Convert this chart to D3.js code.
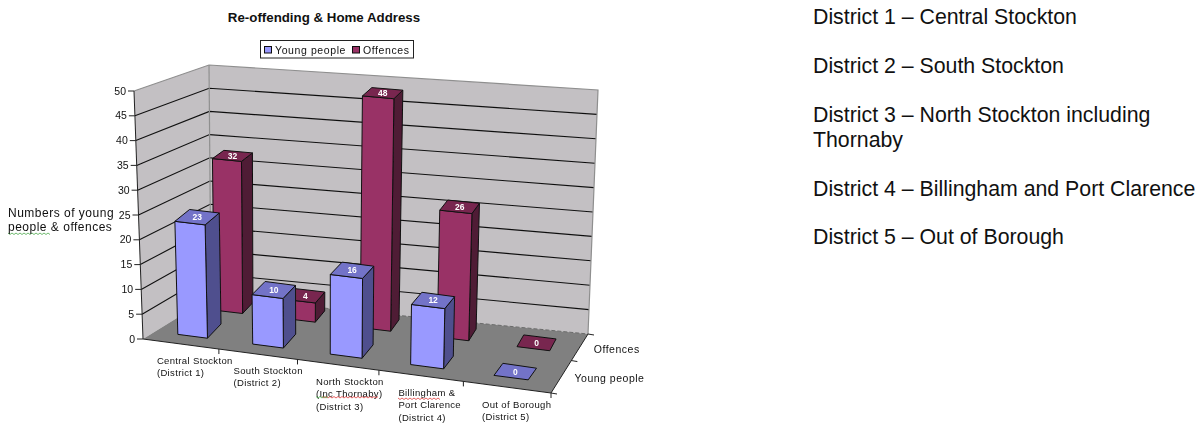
<!DOCTYPE html>
<html><head><meta charset="utf-8">
<style>html,body{margin:0;padding:0;background:#fff}svg{display:block}text{font-family:"Liberation Sans",Arial,sans-serif}</style>
<script src="https://cdnjs.cloudflare.com/ajax/libs/d3/7.8.5/d3.min.js"></script>
</head><body><svg id="c" width="1201" height="423"></svg>
<script>
const categories=["Central Stockton","South Stockton","North Stockton","Billingham","Out of Borough"];
const categoryLabels=[["Central Stockton","(District 1)"],["South Stockton","(District 2)"],["North Stockton","(Inc Thornaby)","(District 3)"],["Billingham &","Port Clarence","(District 4)"],["Out of Borough","(District 5)"]];
const seriesNames=["Young people","Offences"];
const youngPeople=[23,10,16,12,0];
const offences=[32,4,48,26,0];
const valueTicks=[0,5,10,15,20,25,30,35,40,45,50];
const districtNotes=[["District 1 – Central Stockton"],["District 2 – South Stockton"],["District 3 – North Stockton including","Thornaby"],["District 4 – Billingham and Port Clarence"],["District 5 – Out of Borough"]];
const seriesValues=[youngPeople,offences];

// Frame of the 3-D box: [front-left, front-right, back-right, back-left], page pixels
const floorQuad=[[143,339],[551,393],[588,334],[211,297]];
const topQuad=[[134,91],[561,138],[598,90],[209,65]];
const uK=1.094;
const uWarp=u=>u/(uK-(uK-1)*u);
const vDomain=[0,.15,.35,.65,.85,1];
const vxWarp=d3.scaleLinear().domain(vDomain).range([0,.275,.485,.82,.98,1]);
const vyLeft=d3.scaleLinear().domain(vDomain).range([0,.16,.5,.73,.985,1]);
const vyRight=d3.scaleLinear().domain(vDomain).range([0,.15,.34,.65,.85,1]);
function quadPoint(q,u,vx,vy){
  const [a,b,c,d]=q;
  const fx=a[0]+(b[0]-a[0])*u,bx=d[0]+(c[0]-d[0])*u,fy=a[1]+(b[1]-a[1])*u,by=d[1]+(c[1]-d[1])*u;
  return [fx+(bx-fx)*vx,fy+(by-fy)*vy];
}
const uScale=d3.scaleBand().domain(d3.range(categories.length)).range([-.016,.984]).paddingInner(0.6).paddingOuter(0.3);
const vScale=d3.scaleBand().domain(d3.range(seriesNames.length)).range([0,1]).paddingInner(0.6).paddingOuter(0.3);
const hScale=d3.scaleLinear().domain([0,50]).range([0,1]);
const P=(u,v,val)=>{
  const w=uWarp(u),vx=vxWarp(v),vy=vyLeft(v)+(vyRight(v)-vyLeft(v))*w;
  const a=quadPoint(floorQuad,w,vx,vy),b=quadPoint(topQuad,w,vx,vy),t=hScale(val);
  return [a[0]+(b[0]-a[0])*t,a[1]+(b[1]-a[1])*t];
};
const poly=pts=>pts.map(p=>p.join(",")).join(" ");
const line=d3.line();

const svg=d3.select("#c");
const defs=svg.append("defs");
defs.append("filter").attr("id","soft").attr("x","-5%").attr("y","-5%").attr("width","110%").attr("height","110%")
  .append("feGaussianBlur").attr("stdDeviation",0.4);
const chart=svg.append("g").attr("filter","url(#soft)");

// walls and floor
chart.append("polygon").attr("points",poly([P(0,0,0),P(0,1,0),P(0,1,50),P(0,0,50)])).attr("fill","#c3c0c3");
chart.append("polygon").attr("points",poly([P(0,1,0),P(1,1,0),P(1,1,50),P(0,1,50)])).attr("fill","#c3c0c3");
chart.append("polygon").attr("points",poly([P(0,0,0),P(1,0,0),P(1,1,0),P(0,1,0)])).attr("fill","#808080");
// gridlines
chart.append("g").selectAll("path").data(valueTicks.slice(1,-1)).join("path")
  .attr("d",t=>line([P(0,0,t),P(0,1,t),P(1,1,t)])).attr("fill","none").attr("stroke","#111").attr("stroke-width",1.1);
// outer edges
chart.append("path").attr("d",line([P(0,0,50),P(0,1,50),P(1,1,50),P(1,1,0)])).attr("fill","none").attr("stroke","#8f8f8f").attr("stroke-width",1.2);
chart.append("path").attr("d",line([P(0,1,0),P(0,1,50)])).attr("fill","none").attr("stroke","#8f8f8f").attr("stroke-width",1.2);
chart.append("path").attr("d",line([P(0,1,0),P(1,1,0)])).attr("fill","none").attr("stroke","#6a6a6a").attr("stroke-width",1).attr("stroke-dasharray","4 2");

// axes
const axisCol="#222";
chart.append("path").attr("d",line([P(0,0,50),P(0,0,0),P(1,0,0),P(1,1,0)])).attr("fill","none").attr("stroke",axisCol).attr("stroke-width",1);
const vt=chart.append("g").selectAll("g").data(valueTicks).join("g");
vt.append("path").attr("d",t=>{const p=P(0,0,t);return line([p,[p[0]-6,p[1]]]);}).attr("stroke",axisCol).attr("fill","none");
vt.append("text").attr("x",t=>P(0,0,t)[0]-8).attr("y",t=>P(0,0,t)[1]+3.5).attr("text-anchor","end").attr("font-size",10.5).attr("fill","#111").text(t=>t);
// category ticks + labels
const labelShift=[-62,-64,-63,-65,-69];
const catG=chart.append("g").selectAll("g").data(categoryLabels).join("g");
const catEdge=i=>P((i+1)/categories.length,0,0);
catG.append("path").attr("d",(d,i)=>{const p=catEdge(i);return line([p,[p[0],p[1]+5]]);}).attr("stroke",axisCol).attr("fill","none");
catG.selectAll("text").data((d,i)=>d.map((s,j)=>({s,j,i}))).join("text")
  .attr("x",d=>catEdge(d.i)[0]+labelShift[d.i]).attr("y",d=>catEdge(d.i)[1]+14.5+d.j*12.5)
  .attr("font-size",9.5).attr("letter-spacing",0.35).attr("fill","#111").text(d=>d.s);
// series ticks + labels
const sideEdge=d3.interpolate(P(1,0,0),P(1,1,0));
[0,.55,1].forEach(t=>{const p=sideEdge(t);chart.append("path").attr("d",line([p,[p[0]+6,p[1]+1]])).attr("stroke",axisCol).attr("fill","none");});
const serG=chart.append("g").selectAll("text").data(seriesNames).join("text")
  .attr("x",(d,i)=>P(1,(i+0.5)/2,0)[0]+9.5).attr("y",(d,i)=>P(1,(i+0.5)/2,0)[1]+3.8)
  .attr("font-size",10.5).attr("letter-spacing",0.5).attr("fill","#111").text(d=>d);

// bars: back series first, left to right
const barColors=[{front:"#9999ff",side:"#50508e",top:"#7373c8"},{front:"#993366",side:"#4f1a36",top:"#78284f"}];
const bars=[];
categories.forEach((c,i)=>seriesNames.forEach((s,k)=>bars.push({i,k,val:seriesValues[k][i]})));
bars.sort((a,b)=>(b.k-a.k)||(a.i-b.i));
const barG=chart.append("g").selectAll("g").data(bars).join("g");
barG.each(function(d){
  const g=d3.select(this),u0=uScale(d.i),u1=u0+uScale.bandwidth(),v0=vScale(d.k),v1=v0+vScale.bandwidth(),c=barColors[d.k];
  const style=s=>s.attr("stroke","#111").attr("stroke-width",1).attr("stroke-linejoin","round");
  if(d.val>0){
    style(g.append("polygon").attr("points",poly([P(u1,v0,0),P(u1,v1,0),P(u1,v1,d.val),P(u1,v0,d.val)])).attr("fill",c.side));
    style(g.append("polygon").attr("points",poly([P(u0,v0,0),P(u1,v0,0),P(u1,v0,d.val),P(u0,v0,d.val)])).attr("fill",c.front));
  }
  style(g.append("polygon").attr("points",poly([P(u0,v0,d.val),P(u1,v0,d.val),P(u1,v1,d.val),P(u0,v1,d.val)])).attr("fill",c.top));
  const m=P((u0+u1)/2,(v0+v1)/2,d.val);
  g.append("text").attr("x",m[0]).attr("y",m[1]+3).attr("text-anchor","middle").attr("font-size",8.5).attr("font-weight","bold").attr("fill","#fff").text(d.val);
});

// spell-check squiggles in the source picture
const squiggle=(x0,x1,y,col)=>chart.append("path").attr("d",line(d3.range(x0,x1+1,2).map((x,i)=>[x,y+(i%2?1:-0.5)]))).attr("fill","none").attr("stroke",col).attr("stroke-width",.8);
squiggle(8,50,233.5,"#4aa84a");
squiggle(322,378,397,"#e03a3a");
squiggle(316,328,397,"#4aa84a");
squiggle(398,441,398.5,"#e03a3a");

// title, legend, axis title
svg.append("text").attr("x",324).attr("y",22).attr("text-anchor","middle").attr("font-size",13.3).attr("font-weight","bold").attr("fill","#111").text("Re-offending & Home Address");
const leg=chart.append("g");
leg.append("rect").attr("x",260.5).attr("y",40.5).attr("width",153).attr("height",17.5).attr("fill","#fff").attr("stroke","#222");
seriesNames.forEach((s,k)=>{
  const x=[264,352][k];
  leg.append("rect").attr("x",x+.5).attr("y",46.5).attr("width",7).attr("height",6.5).attr("fill",barColors[k].front).attr("stroke","#111");
  leg.append("text").attr("x",x+11).attr("y",54).attr("font-size",10.5).attr("letter-spacing",0.6).attr("fill","#111").text(s);
});
const yt=chart.append("g").attr("fill","#111");
yt.append("text").attr("x",8).attr("y",217).attr("font-size",12).attr("letter-spacing",0.5).text("Numbers of young");
yt.append("text").attr("x",8).attr("y",231).attr("font-size",12).attr("letter-spacing",0.5).text("people & offences");

// district key
const noteStarts=[23.5,73,122,196,244];
const notes=svg.append("g").attr("fill","#111");
districtNotes.forEach((lines,i)=>lines.forEach((t,j)=>{
  notes.append("text").attr("x",813).attr("y",noteStarts[i]+j*24.5).attr("font-size",21.3).text(t);
}));
</script></body></html>
